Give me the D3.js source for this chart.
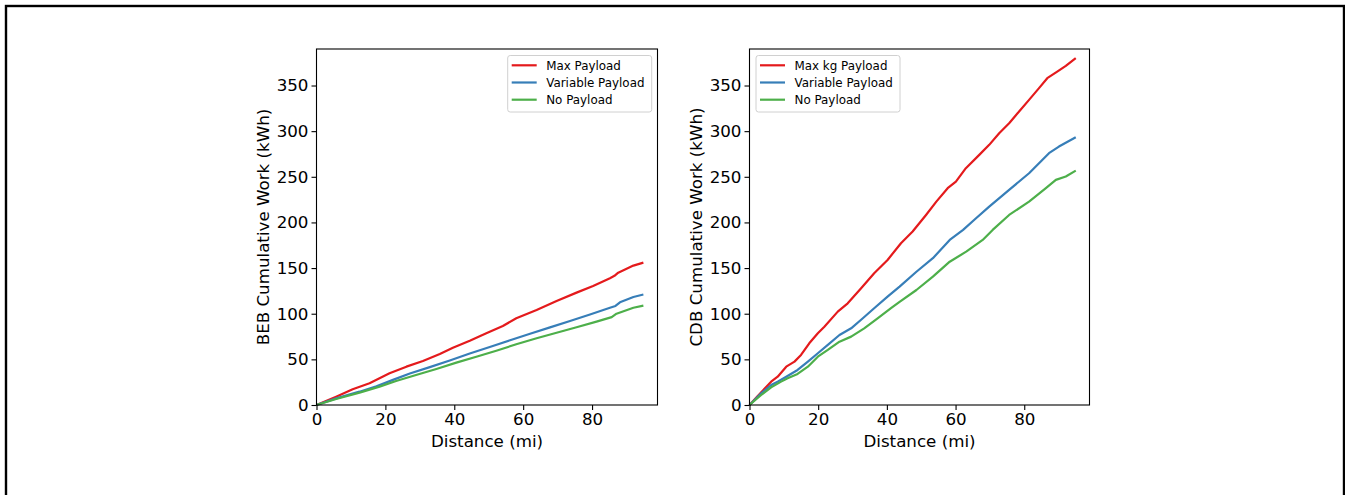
<!DOCTYPE html>
<html>
<head>
<meta charset="utf-8">
<script src="https://cdn.jsdelivr.net/npm/d3@7"></script>
<style>
  body { margin: 0; background: #fff; }
  svg { display: block; font-family: "DejaVu Sans", sans-serif; }
</style>
</head>
<body>
<svg id="chart" width="1345" height="495"></svg>
<script>
// [distance (mi), cumulative work (kWh)]
const bebMax = [[0,0],[5.7,9.1],[10.5,17.2],[15.4,23.8],[18.3,29.3],[21.2,34.7],[26.1,42],[30.9,48.2],[35.8,55.9],[39.6,62.8],[44.5,70.5],[49.3,78.6],[54.1,86.6],[58,95],[63.9,104.1],[69.7,114],[75.5,123.1],[80.3,130.4],[85.2,138.9],[86.5,141.5],[87.6,145],[92,152.7],[94.9,156]];
const bebVar = [[0,0],[5.7,7.3],[12.5,14.6],[17.4,20.5],[22.2,27.5],[27.1,34.5],[32.9,41.5],[38.7,48.8],[44.5,56.5],[50.3,63.5],[56.2,71],[62,78],[67.8,85],[73.6,92],[79.4,99.2],[85.2,106.5],[86.8,108.5],[88.1,112.5],[92,118.3],[94.9,121]];
const bebNo = [[0,0],[5.7,6.6],[12.5,13.5],[18.3,20.1],[23.1,26.3],[28.9,32.9],[34.8,39.5],[40.6,46.4],[46.4,52.9],[52.2,59.5],[58,66.5],[63.9,73.1],[69.7,79.2],[75.5,85.2],[81.3,91.3],[85.7,96.3],[87.1,100],[92,106.5],[94.9,108.9]];

const cdbMax = [[0,0],[2.4,9.9],[6.3,25.6],[8.2,31],[10.7,42],[13.1,47.5],[15,54.8],[17.4,67.6],[19.9,78.6],[21.8,85.8],[25.7,102.3],[28.6,111.4],[32.5,127.9],[36.3,144.3],[40.2,158.9],[44.1,177.2],[47.5,190],[51.4,208.2],[54.4,222.8],[57.7,237.5],[60.1,244.8],[63,259.4],[66.9,274],[69.8,285],[72.7,297.8],[75.6,308.7],[78.5,321.5],[81.4,334.3],[84.3,347.1],[86.7,358],[89.6,365.3],[92.1,371.5],[95,380]];
const cdbVar = [[0,0],[3.4,12.8],[6.3,21.9],[8.2,25.6],[10.7,31],[14,38.4],[17,47.5],[19.9,56.7],[22.8,65.8],[26.2,76.7],[29.6,84],[33,95],[36.3,106],[40.2,118.7],[43.7,129.7],[48.6,146],[53.4,160.8],[58.3,180.8],[62.2,191.8],[65.8,204],[69.8,217.3],[75.6,235.6],[81.4,253.9],[87.2,275.9],[90.1,283.1],[95,293.4]];
const cdbNo = [[0,0],[3.4,11],[6.3,19.4],[9.2,25.6],[11.1,29.2],[14,34],[17,42],[19.9,52.9],[22.8,60.3],[26.2,69.4],[29.6,74.9],[33.4,84],[37.3,95],[41.2,106],[43.7,113],[48.6,126],[53.4,140.6],[58.3,157],[63.1,168],[67.9,180.8],[70.8,191.8],[75.6,208.2],[81.4,222.8],[86.3,237.5],[89.2,246.6],[92.1,250.3],[95,256.8]];

const xTicks = [0, 20, 40, 60, 80];
const yTicks = [0, 50, 100, 150, 200, 250, 300, 350];
const colors = ['#e41a1c', '#377eb8', '#4daf4a'];

const svg = d3.select('#chart');

// outer frame
svg.append('rect')
  .attr('x', 6).attr('y', 6)
  .attr('width', 1338).attr('height', 520)
  .attr('fill', 'none')
  .attr('stroke', '#000')
  .attr('stroke-width', 2.4);

const plotTop = 49, plotBottom = 405;

function drawPanel(left, width, series, yLabel, yLabelX) {
  const x = d3.scaleLinear().domain([0, 99]).range([left, left + width]);
  const y = d3.scaleLinear().domain([0, 390]).range([plotBottom, plotTop]);

  const g = svg.append('g');

  series.forEach((s, i) => {
    g.append('path')
      .datum(s)
      .attr('fill', 'none')
      .attr('stroke', colors[i])
      .attr('stroke-width', 2.2)
      .attr('stroke-linejoin', 'round')
      .attr('d', d3.line().x(d => x(d[0])).y(d => y(d[1])));
  });

  const xAxis = g.append('g')
    .attr('transform', `translate(0, ${plotBottom})`)
    .call(d3.axisBottom(x).tickValues(xTicks).tickSize(5).tickPadding(3));
  const yAxis = g.append('g')
    .attr('transform', `translate(${left}, 0)`)
    .call(d3.axisLeft(y).tickValues(yTicks).tickSize(5).tickPadding(3));

  [xAxis, yAxis].forEach(a => {
    a.select('.domain').remove();
    a.selectAll('text')
      .style('font-family', '"DejaVu Sans", sans-serif')
      .style('font-size', '16.7px')
      .attr('fill', '#000');
    a.selectAll('line').attr('stroke', '#000').attr('stroke-width', 1.1);
  });

  // spines
  g.append('rect')
    .attr('x', left).attr('y', plotTop)
    .attr('width', width).attr('height', plotBottom - plotTop)
    .attr('fill', 'none')
    .attr('stroke', '#000')
    .attr('stroke-width', 1.1);

  g.append('text')
    .attr('x', left + width / 2)
    .attr('y', 447)
    .attr('text-anchor', 'middle')
    .style('font-size', '16.7px')
    .text('Distance (mi)');

  g.append('text')
    .attr('transform', `translate(${yLabelX}, ${(plotTop + plotBottom) / 2}) rotate(-90)`)
    .attr('text-anchor', 'middle')
    .style('font-size', '16.7px')
    .text(yLabel);

  return g;
}

function drawLegend(g, lx, labels) {
  const ly = 55.5;
  g.append('rect')
    .attr('x', lx).attr('y', ly)
    .attr('width', 144).attr('height', 56.5)
    .attr('rx', 2.5)
    .attr('fill', '#fff')
    .attr('fill-opacity', 0.8)
    .attr('stroke', '#d0d0d0')
    .attr('stroke-width', 1);

  labels.forEach((t, i) => {
    const ry = ly + 9.8 + i * 17.2;
    g.append('line')
      .attr('x1', lx + 4).attr('x2', lx + 29)
      .attr('y1', ry).attr('y2', ry)
      .attr('stroke', colors[i])
      .attr('stroke-width', 2.2);
    g.append('text')
      .attr('x', lx + 38.5)
      .attr('y', ry + 4.3)
      .style('font-size', '11.9px')
      .text(t);
  });
}

const leftPanel = drawPanel(316.5, 341, [bebMax, bebVar, bebNo],
  'BEB Cumulative Work (kWh)', 269);
drawLegend(leftPanel, 507.7, ['Max Payload', 'Variable Payload', 'No Payload']);

const rightPanel = drawPanel(749.5, 340, [cdbMax, cdbVar, cdbNo],
  'CDB Cumulative Work (kWh)', 702);
drawLegend(rightPanel, 756, ['Max kg Payload', 'Variable Payload', 'No Payload']);
</script>
</body>
</html>
